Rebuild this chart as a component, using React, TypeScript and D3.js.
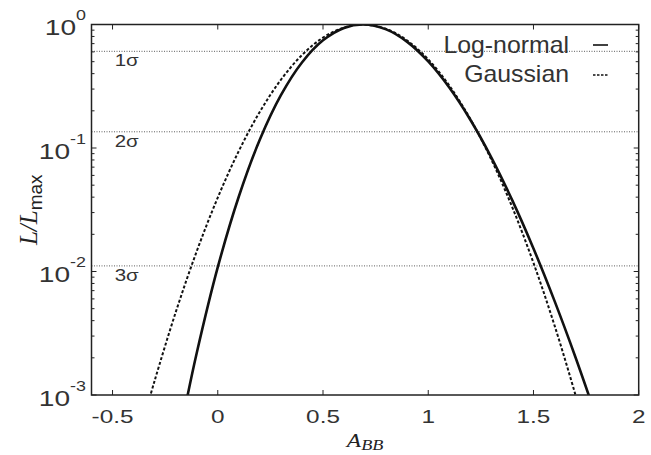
import React from 'react'
import * as d3 from 'd3'

// values
const xTicks = [-0.5, 0, 0.5, 1, 1.5, 2]
const xTickLabels = ['-0.5', '0', '0.5', '1', '1.5', '2']
const yDecades = [-3, -2, -1, 0]

const logNormalA = [-0.2, -0.15, -0.1, 0, 0.1, 0.2, 0.3, 0.4, 0.5, 0.6, 0.69, 0.8, 0.9, 1.0, 1.1, 1.2, 1.3, 1.4, 1.5, 1.6, 1.7, 1.8]
const logNormalL = [3.23e-4, 8.76e-4, 2.19e-3, 0.01084, 0.0405, 0.1171, 0.2675, 0.4924, 0.7442, 0.9375, 1, 0.9127, 0.7229, 0.5019, 0.3085, 0.1693, 0.0837, 0.0375, 0.01536, 5.78e-3, 2.013e-3, 6.5e-4]

const gaussianA = [-0.35, -0.3, -0.2, -0.1, 0, 0.1, 0.2, 0.3, 0.4, 0.5, 0.6, 0.69, 0.8, 0.9, 1.0, 1.1, 1.2, 1.3, 1.4, 1.5, 1.6, 1.7, 1.75]
const gaussianL = [6.57e-4, 1.306e-3, 4.67e-3, 0.01458, 0.0397, 0.0946, 0.1966, 0.3568, 0.5656, 0.783, 0.9466, 1, 0.9213, 0.7417, 0.5215, 0.3202, 0.1717, 0.0804, 0.0329, 0.01174, 3.66e-3, 9.96e-4, 4.94e-4]

const sigmaL = [0.6065, 0.1353, 0.0111]
const sigmaLabels = ['1σ', '2σ', '3σ']

const legendNames = ['Log-normal', 'Gaussian']

const W = 651
const H = 455
const left = 91.5
const right = 638.7
const top = 24.5
const bottom = 395

const SANS = '"Liberation Sans", Arial, Helvetica, sans-serif'
const SERIF = '"Liberation Serif", "Times New Roman", serif'

export default function App() {
    const x = d3.scaleLinear().domain([-0.6, 2]).range([left, right])
    const y = d3.scaleLog().domain([1e-3, 1]).range([bottom, top])

    const line = d3
        .line<[number, number]>()
        .x((d) => x(d[0]))
        .y((d) => y(d[1]))
        .curve(d3.curveCatmullRom.alpha(0.5))

    const lnPath = line(logNormalA.map((a, i) => [a, logNormalL[i]]))!
    const gPath = line(gaussianA.map((a, i) => [a, gaussianL[i]]))!

    // minor ticks on the log axis
    const minor: number[] = []
    yDecades.slice(0, -1).forEach((e) => {
        for (let k = 2; k <= 9; k++) minor.push(k * Math.pow(10, e))
    })

    const sx = 1.28

    return (
        <svg width={W} height={H} style={{ position: 'absolute', left: 0, top: 0, background: '#fff' }}>
            <defs>
                <clipPath id="plot">
                    <rect x={left} y={top} width={right - left} height={bottom - top} />
                </clipPath>
            </defs>

            {/* sigma levels */}
            {sigmaL.map((v, i) => (
                <g key={i}>
                    <line x1={left} x2={right} y1={y(v)} y2={y(v)} stroke="#333" strokeWidth={0.8} strokeDasharray="1,1.5" />
                    <text
                        transform={`translate(${x(-0.49)},${y(v) + 15}) scale(${sx},1)`}
                        fontFamily={SANS}
                        fontSize={16}
                        fill="#333"
                    >
                        {sigmaLabels[i]}
                    </text>
                </g>
            ))}

            {/* curves */}
            <g clipPath="url(#plot)" fill="none" stroke="#111">
                <path d={gPath} strokeWidth={2} strokeDasharray="3,2" />
                <path d={lnPath} strokeWidth={2.6} />
            </g>

            {/* frame */}
            <rect x={left} y={top} width={right - left} height={bottom - top} fill="none" stroke="#222" strokeWidth={1.5} />

            {/* x ticks */}
            {xTicks.map((t, i) => (
                <g key={t}>
                    <line x1={x(t)} x2={x(t)} y1={bottom} y2={bottom - 5} stroke="#222" />
                    <line x1={x(t)} x2={x(t)} y1={top} y2={top + 5} stroke="#222" />
                    <text
                        transform={`translate(${x(t)},${bottom + 27.5}) scale(${sx},1)`}
                        textAnchor="middle"
                        fontFamily={SANS}
                        fontSize={19}
                        fill="#333"
                    >
                        {xTickLabels[i]}
                    </text>
                </g>
            ))}

            {/* y ticks */}
            {yDecades.map((e) => {
                const v = Math.pow(10, e)
                return (
                    <g key={e}>
                        <line x1={left} x2={left + 5} y1={y(v)} y2={y(v)} stroke="#222" />
                        <line x1={right} x2={right - 5} y1={y(v)} y2={y(v)} stroke="#222" />
                        <text
                            transform={`translate(86,${y(v) + 10.5}) scale(${sx},1)`}
                            textAnchor="end"
                            fontFamily={SANS}
                            fontSize={22}
                            fill="#333"
                        >
                            10
                            <tspan fontSize={14} dy={-15}>
                                {e}
                            </tspan>
                        </text>
                    </g>
                )
            })}
            {minor.map((v, i) => (
                <g key={i}>
                    <line x1={left} x2={left + 3} y1={y(v)} y2={y(v)} stroke="#222" />
                    <line x1={right} x2={right - 3} y1={y(v)} y2={y(v)} stroke="#222" />
                </g>
            ))}

            {/* axis titles */}
            <text transform={`translate(${(left + right) / 2},447) scale(1.3,1)`} textAnchor="middle" fill="#222">
                <tspan fontFamily={SERIF} fontStyle="italic" fontSize={18}>
                    A
                </tspan>
                <tspan fontFamily={SERIF} fontStyle="italic" fontSize={14} dy={3}>
                    BB
                </tspan>
            </text>
            <text transform={`translate(37,${(top + bottom) / 2}) rotate(-90)`} textAnchor="middle" fill="#222">
                <tspan fontFamily={SERIF} fontStyle="italic" fontSize={25}>
                    L/L
                </tspan>
                <tspan fontFamily={SANS} fontSize={19} dy={5}>
                    max
                </tspan>
            </text>

            {/* legend */}
            {legendNames.map((n, i) => (
                <g key={n}>
                    <text
                        transform={`translate(569,${53.3 + i * 29}) scale(1.08,1)`}
                        textAnchor="end"
                        fontFamily={SANS}
                        fontSize={23}
                        fill="#333"
                    >
                        {n}
                    </text>
                    <line
                        x1={593}
                        x2={608}
                        y1={45 + i * 30}
                        y2={45 + i * 30}
                        stroke="#111"
                        strokeWidth={i === 0 ? 1.6 : 1.3}
                        strokeDasharray={i === 0 ? undefined : '2.5,1.5'}
                    />
                </g>
            ))}
        </svg>
    )
}
